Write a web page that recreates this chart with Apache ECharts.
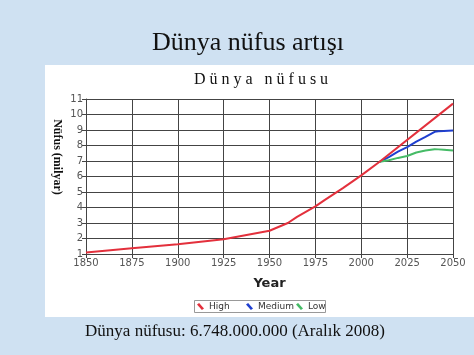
<!DOCTYPE html>
<html>
<head>
<meta charset="utf-8">
<script src="https://cdn.jsdelivr.net/npm/echarts@6/dist/echarts.min.js"></script>
<style>
  html, body { margin: 0; padding: 0; background: #cfe1f2; }
  #chart { width: 474px; height: 355px; }
</style>
</head>
<body>
<div id="chart"></div>
<script>
// historical + high projection
const histYears = [1850, 1875, 1900, 1925, 1950, 1960, 1965, 1975, 1980, 1990, 2000, 2010, 2050];
const highValues = [1.1, 1.37, 1.63, 1.95, 2.5, 3.0, 3.4, 4.07, 4.48, 5.25, 6.07, 6.95, 10.7];
// medium / low projections
const projYears = [2010, 2015, 2020, 2025, 2030, 2035, 2040, 2042, 2045, 2050];
const mediumValues = [6.95, 7.25, 7.6, 7.9, 8.25, 8.55, 8.88, 8.92, 8.93, 8.96];
const lowValues = [6.95, 7.05, 7.2, 7.32, 7.55, 7.68, 7.76, 7.75, 7.73, 7.67];

const pairs = (xs, ys) => xs.map((x, i) => [x, ys[i]]);
const slash = "path://M0,2 L3,0 L10,8 L7,10 Z";
const legendText = { fontSize: 9, color: "#333", fontFamily: "DejaVu Sans" };

const chart = echarts.init(document.getElementById("chart"));
chart.setOption({
  backgroundColor: "#cfe1f2",
  animation: false,
  graphic: [
    { type: "rect", shape: { x: 45, y: 65, width: 429, height: 252 }, style: { fill: "#fff" }, z: -10 },
    { type: "rect", shape: { x: 194.5, y: 300.5, width: 131, height: 12 }, style: { fill: "#fff", stroke: "#999", lineWidth: 1 }, z: -5 },
    { type: "text", x: 248, y: 43, style: { text: "Dünya nüfus artışı", font: "26px 'Liberation Serif'", fill: "#111", textAlign: "center", textVerticalAlign: "middle" } },
    { type: "text", x: 261, y: 80, style: { text: "D ü n y a   n ü f u s u", font: "16px 'Liberation Serif'", fill: "#111", textAlign: "center", textVerticalAlign: "middle" } },
    { type: "text", x: 57, y: 157, rotation: -Math.PI / 2, style: { text: "Nüfus (milyar)", font: "bold 12px 'Liberation Serif'", fill: "#111", textAlign: "center", textVerticalAlign: "middle" } },
    { type: "text", x: 235, y: 332, style: { text: "Dünya nüfusu: 6.748.000.000 (Aralık 2008)", font: "17px 'Liberation Serif'", fill: "#111", textAlign: "center", textVerticalAlign: "middle" } }
  ],
  grid: { left: 86, right: 21, top: 99, bottom: 101 },
  legend: [
    { data: ["High"], left: 197, top: 302, padding: 0, itemWidth: 7, itemHeight: 8, icon: slash, textStyle: legendText },
    { data: ["Medium", "Low"], left: 246, top: 302, padding: 0, itemWidth: 7, itemHeight: 8, itemGap: 2, icon: slash, textStyle: legendText }
  ],
  xAxis: {
    type: "value", min: 1850, max: 2050, interval: 25,
    name: "Year", nameLocation: "middle", nameGap: 23,
    nameTextStyle: { fontSize: 13, fontWeight: "bold", color: "#222", fontFamily: "DejaVu Sans" },
    axisLine: { lineStyle: { color: "#444" } },
    axisTick: { show: true, length: 4, lineStyle: { color: "#444" } },
    axisLabel: { fontSize: 10, color: "#555", fontFamily: "DejaVu Sans", margin: 4, formatter: v => String(v) },
    splitLine: { lineStyle: { color: "#444", width: 1 } }
  },
  yAxis: {
    type: "value", min: 1, max: 11, interval: 1,
    axisLine: { show: true, lineStyle: { color: "#444" } },
    axisTick: { show: true, length: 4, lineStyle: { color: "#444" } },
    axisLabel: { fontSize: 10, color: "#555", fontFamily: "DejaVu Sans", margin: 3 },
    splitLine: { lineStyle: { color: "#444", width: 1 } }
  },
  series: [
    { name: "Medium", type: "line", data: pairs(projYears, mediumValues), showSymbol: false, lineStyle: { width: 2, color: "#1f3fd0" }, itemStyle: { color: "#1f3fd0" }, z: 3 },
    { name: "Low", type: "line", data: pairs(projYears, lowValues), showSymbol: false, lineStyle: { width: 2, color: "#45bb66" }, itemStyle: { color: "#45bb66" }, z: 3 },
    { name: "High", type: "line", data: pairs(histYears, highValues), showSymbol: false, lineStyle: { width: 2, color: "#e3303c" }, itemStyle: { color: "#e3303c" }, z: 4 }
  ]
});
</script>
</body>
</html>
